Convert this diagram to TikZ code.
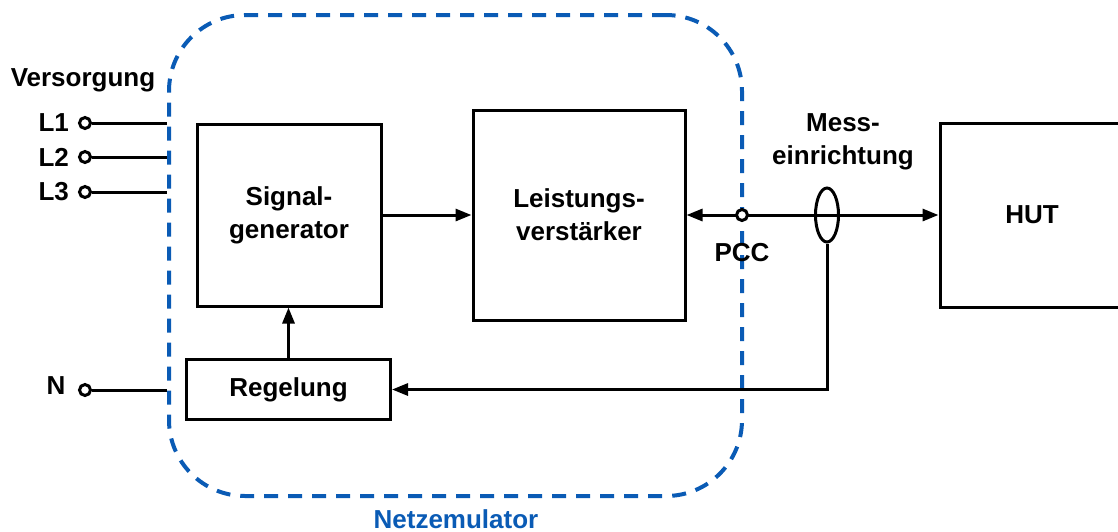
\documentclass[tikz,border=0pt]{standalone}
\usepackage{fontspec}
\setmainfont{Liberation Sans}
\usepackage{tikz}
\usetikzlibrary{positioning,arrows.meta,shapes.geometric,calc}
\definecolor{EmuBlue}{HTML}{0A5BB5}

\begin{document}
\begin{tikzpicture}[
  x=0.5pt, y=-0.5pt,
  every node/.style={font=\fontsize{13}{16.5}\selectfont\bfseries},
  block/.style={rectangle, draw, line width=1.5pt, align=center},
  term/.style={circle, draw, fill=white, line width=1.5pt, inner sep=0pt, minimum size=5.5pt},
  emuframe/.style={rectangle, draw=EmuBlue, line width=2pt, dash pattern=on 7pt off 5pt, rounded corners=38pt, minimum width=286.5pt, minimum height=240.5pt},
  wire/.style={line width=1.5pt},
  arr/.style={wire, -{Triangle[length=8pt, width=6pt]}},
  darr/.style={wire, {Triangle[length=8pt, width=6pt]}-{Triangle[length=8pt, width=6pt]}}
]
\useasboundingbox (0,0) rectangle (1118,531);

% Netzemulator frame
\node[emuframe] (emu) at (455.5,255.5) {};
\node[text=EmuBlue] (emulbl) at (456,519) {Netzemulator};

% blocks
\node[block, minimum width=92pt, minimum height=91pt] (sg)  at (289,215) {Signal-\\generator};
\node[block, minimum width=106pt, minimum height=105pt] (lv) at (579,215) {Leistungs-\\verst\"arker};
\node[block, minimum width=102pt, minimum height=30pt] (reg) at (288.5,389.5) {Regelung};
\node[block, minimum width=92pt, minimum height=92pt] (hut) at (1032,215) {HUT};

% supply terminals
\node (vers) at (83,80) {Versorgung};
\node[term, label={[label distance=1pt]left:L1}] (l1) at (85,123) {};
\node[term, label={[label distance=1pt]left:L2}] (l2) at (85,157) {};
\node[term, label={[label distance=1pt]left:L3}] (l3) at (85,192) {};
\node[term] (n) at (85,390) {};
\node (nlbl) at (56,386) {N};

\draw[wire] (l1) -- (l1 -| emu.west);
\draw[wire] (l2) -- (l2 -| emu.west);
\draw[wire] (l3) -- (l3 -| emu.west);
\draw[wire] (n)  -- (n -| emu.west);

% signal path
\draw[arr] (sg) -- (lv);
\draw[arr] (reg.north) -- (reg.north |- sg.south);
\draw[darr] (lv.east) -- (hut.west);

% PCC and measurement
\node[term] (pcc) at (742,215) {};
\node (pcclbl) at (742,253) {PCC};
\node[ellipse, draw, line width=1.5pt, inner sep=0pt, minimum width=11.5pt, minimum height=27pt] (mess) at (827,215) {};
\node[align=center] (messlbl) at (843,142) {Mess-\\einrichtung};
\draw[arr] (mess.south) |- (reg.east);
\end{tikzpicture}
\end{document}
